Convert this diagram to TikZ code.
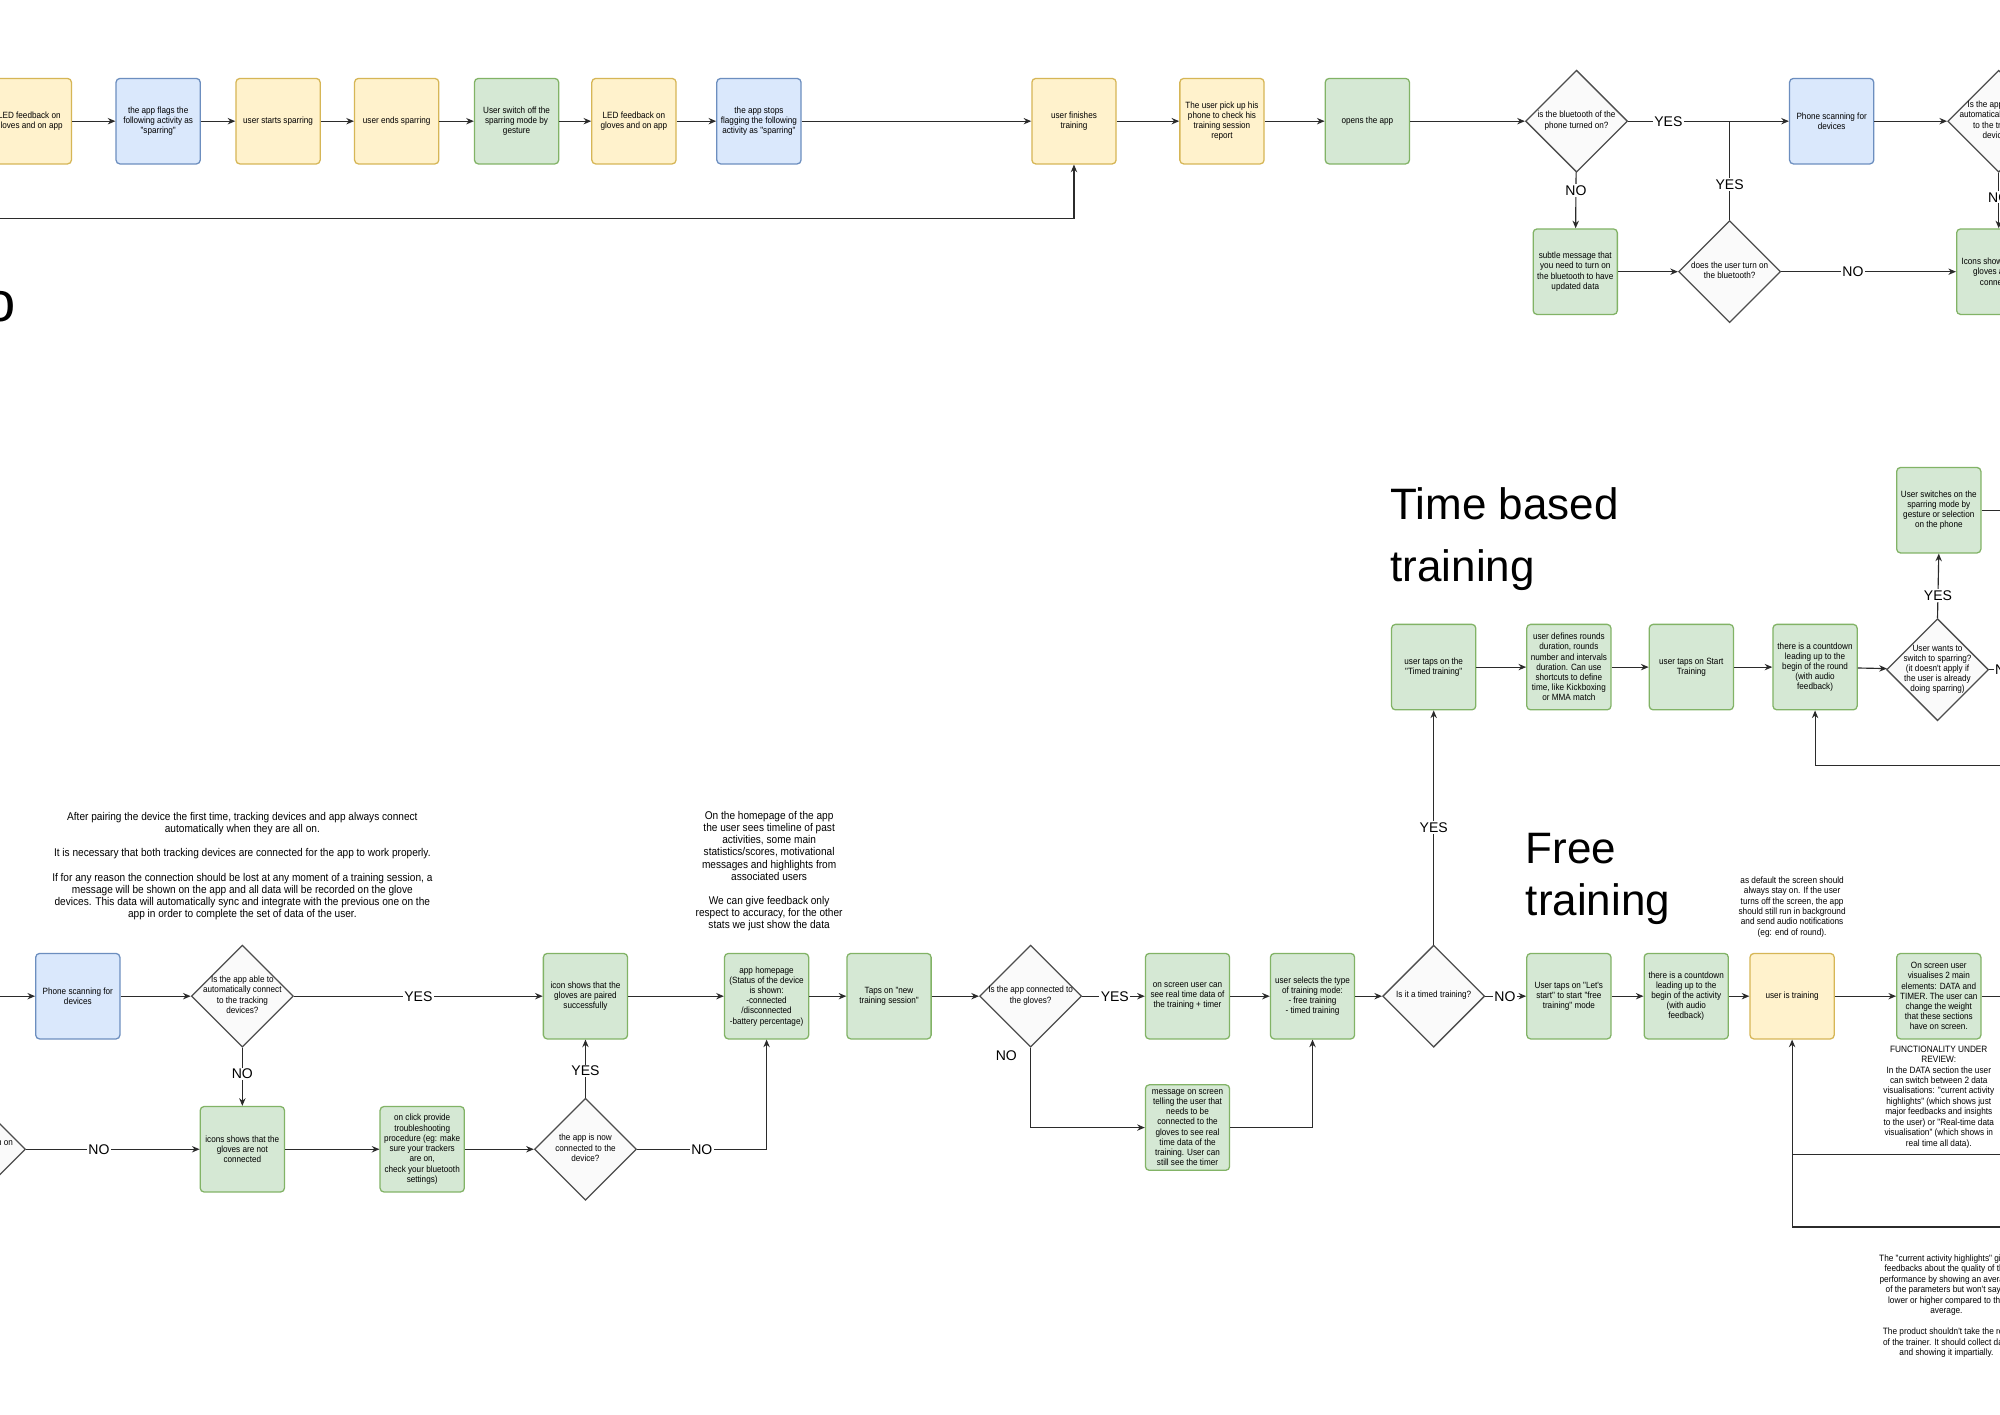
\documentclass[tikz,border=0pt]{standalone}
\usepackage{fontspec}
\setmainfont{Liberation Sans}
\newfontfamily\cnd[FakeStretch=0.9]{Liberation Sans}
\usetikzlibrary{shapes.geometric,arrows.meta,calc}
\definecolor{yfill}{HTML}{FFF2CC}
\definecolor{ydraw}{HTML}{D6B656}
\definecolor{bfill}{HTML}{DAE8FC}
\definecolor{bdraw}{HTML}{6C8EBF}
\definecolor{gfill}{HTML}{D5E8D4}
\definecolor{gdraw}{HTML}{82B366}
\definecolor{dfill}{HTML}{FAFAFA}
\definecolor{ddraw}{HTML}{4D4D4D}
\definecolor{lcol}{HTML}{2B2B2B}
\newcommand\dtx[1]{\smash{\makebox[0pt]{\raisebox{-0.22em}{\begin{tabular}{@{}c@{}}#1\end{tabular}}}}}
\tikzset{
  bx/.style={rectangle, rounded corners=3pt, minimum width=66pt, minimum height=67pt,
    inner sep=0.5pt, align=center, font=\cnd\fontsize{7.1}{8}\selectfont, line width=1pt},
  ybx/.style={bx, fill=yfill, draw=ydraw},
  bbx/.style={bx, fill=bfill, draw=bdraw},
  gbx/.style={bx, fill=gfill, draw=gdraw},
  dia/.style={diamond, minimum width=80pt, minimum height=80pt, inner sep=0pt,
    fill=dfill, draw=ddraw, line width=1pt, font=\cnd\fontsize{7.1}{8}\selectfont},
  lbl/.style={fill=white, inner sep=1pt, font=\fontsize{11}{11}\selectfont},
  lbltxt/.style={inner sep=1pt, font=\fontsize{11}{11}\selectfont},
  notetxt/.style={align=center, inner sep=0pt, font=\cnd\fontsize{8.8}{9.5}\selectfont},
  snote/.style={align=center, inner sep=0pt, font=\cnd\fontsize{7.2}{8.2}\selectfont},
  ttl/.style={anchor=base west, inner sep=0pt, font=\fontsize{34.5}{40}\selectfont},
  arr/.style={draw=lcol, line width=0.9pt, -{Stealth[length=6pt,width=5pt]}},
  ln/.style={draw=lcol, line width=0.9pt},
}
\begin{document}
\begin{tikzpicture}[x=1pt,y=-1pt]
\fill[white] (0,0) rectangle (1568,1109);
\useasboundingbox (0,0) rectangle (1568,1109);

% ---------------- top row ----------------
\node[ybx] (B1) at (23,95) {LED feedback on\\gloves and on app};
\node[bbx] (B2) at (124,95) {the app flags the\\following activity as\\"sparring"};
\node[ybx] (B3) at (218,95) {user starts sparring};
\node[ybx] (B4) at (311,95) {user ends sparring};
\node[gbx] (B5) at (405,95) {User switch off the\\sparring mode by\\gesture};
\node[ybx] (B6) at (497,95) {LED feedback on\\gloves and on app};
\node[bbx] (B7) at (595,95) {the app stops\\flagging the following\\activity as "sparring"};
\node[ybx] (B8) at (842,95) {user finishes\\training};
\node[ybx] (B9) at (958,95) {The user pick up his\\phone to check his\\training session\\report};
\node[gbx] (B10) at (1072,95) {opens the app};
\node[dia] (D1) at (1236,95) {\dtx{is the bluetooth of the\\phone turned on?}};
\node[bbx] (B11) at (1436,95) {Phone scanning for\\devices};
\node[dia] (D2) at (1567,95) {\dtx{Is the app able to\\automatically connect\\to the tracking\\devices?}};
\node[gbx] (B12) at (1235,213) {subtle message that\\you need to turn on\\the bluetooth to have\\updated data};
\node[dia] (D3) at (1356,213) {\dtx{does the user turn on\\the bluetooth?}};
\node[gbx] (B13) at (1567,213) {Icons shows that the\\gloves are not\\connected};
\node[anchor=base, inner sep=0pt, font=\fontsize{44}{44}\selectfont] (olet) at (0,252) {o};
\coordinate (tl) at (-5,171);

\draw[arr] (B1) -- (B2);
\draw[arr] (B2) -- (B3);
\draw[arr] (B3) -- (B4);
\draw[arr] (B4) -- (B5);
\draw[arr] (B5) -- (B6);
\draw[arr] (B6) -- (B7);
\draw[arr] (B7) -- (B8);
\draw[arr] (B8) -- (B9);
\draw[arr] (B9) -- (B10);
\draw[arr] (B10) -- (D1);
\draw[arr] (D1) -- node[lbl,pos=0.25]{YES} (B11);
\draw[arr] (B11) -- (D2);
\draw[arr] (D1) -- node[lbl,pos=0.32]{NO} (B12);
\draw[arr] (B12) -- (D3);
\draw[ln] (D3.north) -- node[lbl,pos=0.36]{YES} (D3.north |- D1.east);
\draw[arr] (D3) -- node[lbl,pos=0.41]{NO} (B13);
\draw[arr] (D2.south) -- node[lbl,pos=0.44]{NO} (B13.north);
\draw[arr] (tl) -| (B8.south);

% ---------------- lower section ----------------
\node[notetxt] (N1) at (190,679) {After pairing the device the first time, tracking devices and app always connect\\automatically when they are all on.\\[9.5pt]It is necessary that both tracking devices are connected for the app to work properly.\\[9.5pt]If for any reason the connection should be lost at any moment of a training session, a\\message will be shown on the app and all data will be recorded on the glove\\devices. This data will automatically sync and integrate with the previous one on the\\app in order to complete the set of data of the user.};
\node[notetxt] (N2) at (603,683) {On the homepage of the app\\the user sees timeline of past\\activities, some main\\statistics/scores, motivational\\messages and highlights from\\associated users\\[9.5pt]We can give feedback only\\respect to accuracy, for the other\\stats we just show the data};

\node[bbx] (B14) at (61,781) {Phone scanning for\\devices};
\node[dia] (D4) at (190,781) {\dtx{Is the app able to\\automatically connect\\to the tracking\\devices?}};
\node[gbx] (B15) at (459,781) {icon shows that the\\gloves are paired\\successfully};
\node[gbx] (B16) at (601,781) {app homepage\\(Status of the device\\is shown:\\-connected\\/disconnected\\-battery percentage)};
\node[gbx] (B17) at (697,781) {Taps on "new\\training session"};
\node[dia] (D5) at (808,781) {\dtx{Is the app connected to\\the gloves?}};
\node[gbx] (B18) at (931,781) {on screen user can\\see real time data of\\the training + timer};
\node[gbx] (B19) at (1029,781) {user selects the type\\of training mode:\\- free training\\- timed training};
\node[dia] (D6) at (1124,781) {\dtx{Is it a timed training?}};
\node[gbx] (B20) at (1230,781) {User taps on "Let's\\start" to start "free\\training" mode};
\node[gbx] (B21) at (1322,781) {there is a countdown\\leading up to the\\begin of the activity\\(with audio\\feedback)};
\node[ybx] (B22) at (1405,781) {user is training};
\node[gbx] (B23) at (1520,781) {On screen user\\visualises 2 main\\elements: DATA and\\TIMER. The user can\\change the weight\\that these sections\\have on screen.};

\node[dia] (DL) at (-20,901) {\dtx{does the user turn on\\the bluetooth?}};
\node[gbx] (B24) at (190,901) {icons shows that the\\gloves are not\\connected};
\node[gbx] (B25) at (331,901) {on click provide\\troubleshooting\\procedure (eg: make\\sure your trackers\\are on,\\check your bluetooth\\settings)};
\node[dia] (D7) at (459,901) {\dtx{the app is now\\connected to the\\device?}};
\node[gbx] (B26) at (931,884) {message on screen\\telling the user that\\needs to be\\connected to the\\gloves to see real\\time data of the\\training. User can\\still see the timer};
\node[lbltxt] (noD5) at (789,828) {NO};

% time based training
\node[ttl] (tb1) at (1090,407) {Time based};
\node[ttl] (tb2) at (1090,456) {training};
\node[gbx] (B27) at (1124,523) {user taps on the\\"Timed training"};
\node[gbx] (B28) at (1230,523) {user defines rounds\\duration, rounds\\number and intervals\\duration. Can use\\shortcuts to define\\time, like Kickboxing\\or MMA match};
\node[gbx] (B29) at (1326,523) {user taps on Start\\Training};
\node[gbx] (B30) at (1423,523) {there is a countdown\\leading up to the\\begin of the round\\(with audio\\feedback)};
\node[dia] (D8) at (1519,525) {\dtx{User wants to\\switch to sparring?\\(it doesn't apply if\\the user is already\\doing sparring)}};
\node[gbx] (B31) at (1520,400) {User switches on the\\sparring mode by\\gesture or selection\\on the phone};

% free training
\node[ttl] (fr1t) at (1196,677) {Free};
\node[ttl] (fr2t) at (1196,718) {training};
\node[snote] (N3) at (1405,711) {as default the screen should\\always stay on. If the user\\turns off the screen, the app\\should still run in background\\and send audio notifications\\(eg: end of round).};
\node[snote] (N4) at (1520,860) {FUNCTIONALITY UNDER\\REVIEW:\\In the DATA section the user\\can switch between 2 data\\visualisations: "current activity\\highlights" (which shows just\\major feedbacks and insights\\to the user) or "Real-time data\\visualisation" (which shows in\\real time all data).};
\node[snote] (N5) at (1526,1024) {The "current activity highlights" gives\\feedbacks about the quality of the\\performance by showing an average\\of the parameters but won't say if\\lower or higher compared to the\\average.\\[8.2pt]The product shouldn't take the role\\of the trainer. It should collect data\\and showing it impartially.};

\coordinate (lin) at (-5,781);
\coordinate (b23r) at (1575,781);
\coordinate (d8r) at (1600,525);
\coordinate (b31r) at (1575,400);
\coordinate (lr) at (1575,600);
\coordinate (fr1) at (1575,905);
\coordinate (fr2) at (1575,962);

\draw[arr] (lin) -- (B14);
\draw[arr] (B14) -- (D4);
\draw[arr] (D4) -- node[lbl,pos=0.5]{YES} (B15);
\draw[arr] (B15) -- (B16);
\draw[arr] (B16) -- (B17);
\draw[arr] (B17) -- (D5);
\draw[arr] (D5) -- node[lbl,pos=0.52]{YES} (B18);
\draw[arr] (B18) -- (B19);
\draw[arr] (B19) -- (D6);
\draw[arr] (D6) -- node[lbl,pos=0.48]{NO} (B20);
\draw[arr] (B20) -- (B21);
\draw[arr] (B21) -- (B22);
\draw[arr] (B22) -- (B23);
\draw[ln] (B23) -- (b23r);
\draw[arr] (D4) -- node[lbl,pos=0.45]{NO} (B24);
\draw[arr] (DL) -- node[lbl,pos=0.42]{NO} (B24);
\draw[arr] (B24) -- (B25);
\draw[arr] (B25) -- (D7);
\draw[arr] (D7) -- node[lbl,pos=0.46]{YES} (B15);
\draw[arr] (D7.east) -- node[lbl,pos=0.5]{NO} (B16.south |- D7.east) -- (B16.south);
\draw[arr] (D5.south) |- (B26.west);
\draw[arr] (B26.east) -| (B19.south);
\draw[arr] (D6) -- node[lbl,pos=0.5]{YES} (B27);
\draw[arr] (B27) -- (B28);
\draw[arr] (B28) -- (B29);
\draw[arr] (B29) -- (B30);
\draw[arr] (B30) -- (D8);
\draw[arr] (D8.north) -- node[lbl,pos=0.35]{YES} (B31.south);
\draw[arr] (D8.east) -- node[lbl,pos=0.32]{NO} (d8r);
\draw[ln] (B31) -- (b31r);
\draw[arr] (lr) -| (B30.south);
\draw[ln] (fr1) -- (B22.south |- fr1);
\draw[arr] (fr2) -| (B22.south);
\end{tikzpicture}
\end{document}
